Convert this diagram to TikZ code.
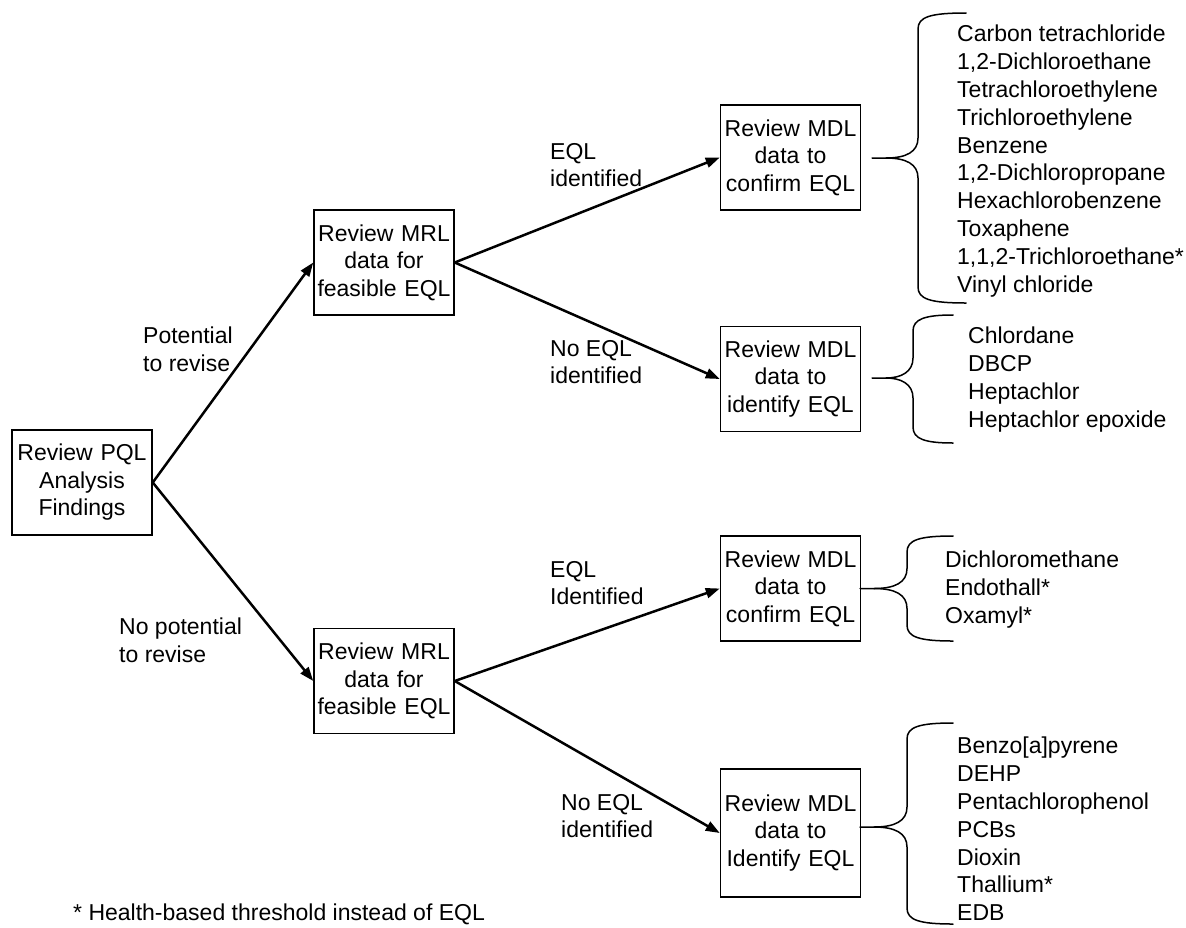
\documentclass[tikz,border=0pt]{standalone}
\usepackage{fontspec}
\setmainfont{Liberation Sans}
\usetikzlibrary{arrows.meta}
\tikzset{
  box/.style={draw, line width=1.5pt, text width=140pt, inner sep=0pt, minimum height=105pt, align=center, font=\fontsize{23}{27.5}\selectfont},
  lbl/.style={anchor=north west, inner sep=0pt, align=left, font=\fontsize{23}{27.2}\selectfont},
  lst/.style={anchor=north west, inner sep=0pt, align=left, font=\fontsize{23}{27.8}\selectfont},
  arr/.style={line width=2.5pt, -{Triangle[length=14pt,width=10pt]}},
  bracestyle/.style={line width=1.5pt, line cap=round, line join=round},
}
\newcommand\mybrace[6]{%
  \draw[bracestyle] (#6,#4) .. controls ({#3+12},#4) and (#3,{#4+4}) .. (#3,{#4+16}) -- (#3,{#2-20})
     .. controls (#3,{#2-6}) and ({#3-12},#2) .. ({#1+14},#2) -- (#1,#2);
  \draw[bracestyle] ({#1+14},#2) .. controls ({#3-12},#2) and (#3,{#2+6}) .. (#3,{#2+20}) -- (#3,{#5-16})
     .. controls (#3,{#5-4}) and ({#3+12},#5) .. (#6,#5);
}
\begin{document}
\begin{tikzpicture}[x=1pt,y=-1pt]
\useasboundingbox[fill=white] (0,0) rectangle (1186,927);

\node[box] (pql) at (82,482.5) {Review PQL\\Analysis\\Findings};
\node[box] (mrl1) at (384,262.5) {Review MRL\\data for\\feasible EQL};
\node[box] (mrl2) at (384,681) {Review MRL\\data for\\feasible EQL};
\node[box] (mdl1) at (790.5,157.5) {Review MDL\\data to\\confirm EQL};
\node[box] (mdl2) at (790.5,379) {Review MDL\\data to\\identify EQL};
\node[box] (mdl3) at (790.5,588.5) {Review MDL\\data to\\confirm EQL};
\node[box, minimum height=128pt] (mdl4) at (790.5,833) {Review MDL\\data to\\Identify EQL};

\draw[arr] (pql.east) -- (mrl1.west);
\draw[arr] (pql.east) -- (mrl2.west);
\draw[arr] (mrl1.east) -- (mdl1.west);
\draw[arr] (mrl1.east) -- (mdl2.west);
\draw[arr] (mrl2.east) -- (mdl3.west);
\draw[arr] (mrl2.east) -- (mdl4.west);

\node[lbl] (l1) at (143,327) {Potential\\to revise};
\node[lbl] (l2) at (119,618) {No potential\\to revise};
\node[lbl] (l3) at (550,143) {EQL\\identified};
\node[lbl] (l4) at (550,340) {No EQL\\identified};
\node[lbl] (l5) at (550,561) {EQL\\Identified};
\node[lbl] (l6) at (561,794) {No EQL\\identified};

\mybrace{872}{158}{918}{13}{303}{966}
\mybrace{872}{378}{913}{315}{443}{953}
\mybrace{860}{588.5}{907}{536}{641}{953}
\mybrace{860}{827}{907}{723}{924}{953}

\node[lst] (list1) at (957,25) {Carbon tetrachloride\\1,2-Dichloroethane\\Tetrachloroethylene\\Trichloroethylene\\Benzene\\1,2-Dichloropropane\\Hexachlorobenzene\\Toxaphene\\1,1,2-Trichloroethane*\\Vinyl chloride};
\node[lst] (list2) at (968,327) {Chlordane\\DBCP\\Heptachlor\\Heptachlor epoxide};
\node[lst] (list3) at (945,551) {Dichloromethane\\Endothall*\\Oxamyl*};
\node[lst] (list4) at (957,737) {Benzo[a]pyrene\\DEHP\\Pentachlorophenol\\PCBs\\Dioxin\\Thallium*\\EDB};

\node[anchor=base west, inner sep=0pt, font=\fontsize{23}{27.5}\selectfont] (foot) at (73,920) {* Health-based threshold instead of EQL};
\end{tikzpicture}
\end{document}
